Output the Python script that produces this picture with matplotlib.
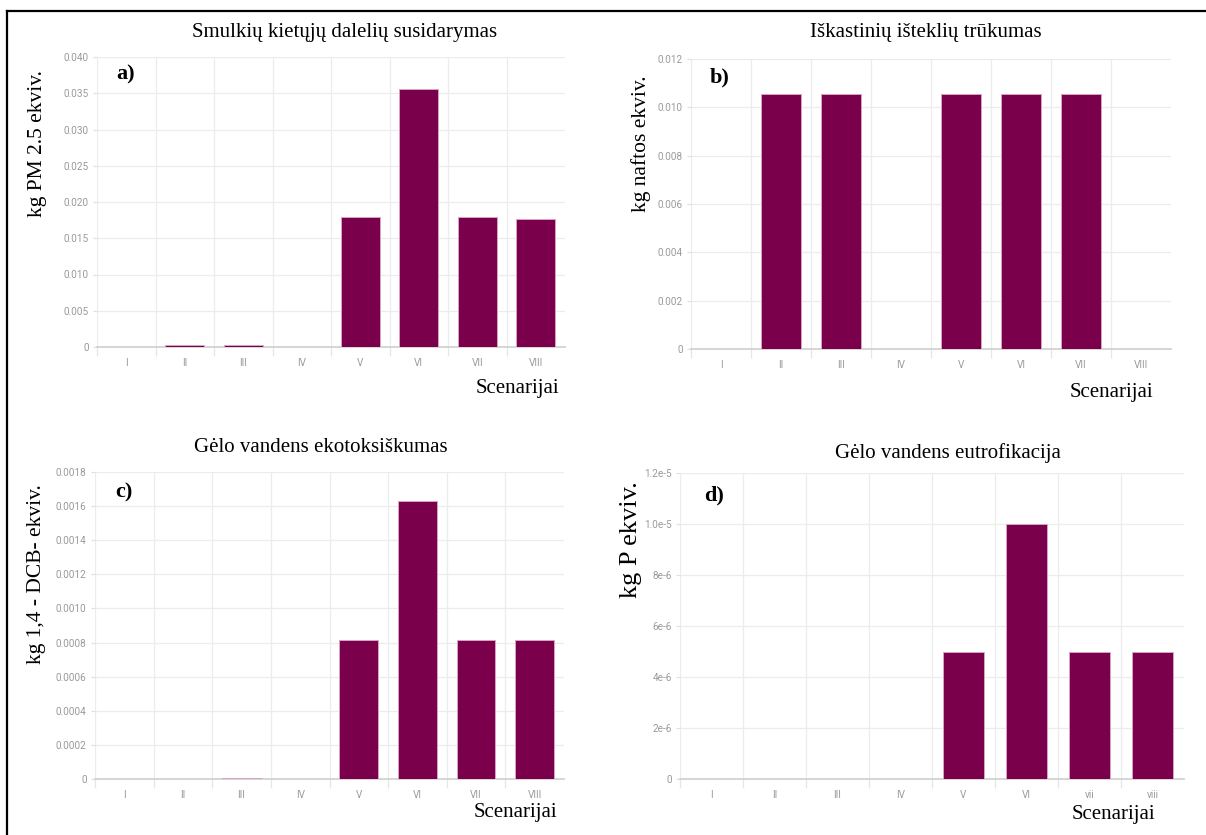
import matplotlib
matplotlib.use('Agg')
import matplotlib.pyplot as plt
from matplotlib.lines import Line2D

W, H = 1206, 835

# scenario labels
scenarios = ['I', 'II', 'III', 'IV', 'V', 'VI', 'VII', 'VIII']
scenarios_d = ['I', 'II', 'III', 'IV', 'V', 'VI', 'vii', 'viii']

# impact values per scenario
pm25 = [0, 0.0003, 0.0003, 0, 0.0179, 0.0356, 0.0179, 0.0177]
fossil = [0, 0.01054, 0.01054, 0, 0.01054, 0.01054, 0.01054, 0]
ecotox = [0, 0, 0.000004, 0, 0.000816, 0.00163, 0.000816, 0.000816]
eutro = [0, 0, 0, 0, 5.0e-6, 1.0e-5, 5.0e-6, 5.0e-6]

# y ticks
ticks_a = [0, 0.005, 0.010, 0.015, 0.020, 0.025, 0.030, 0.035, 0.040]
labels_a = ['0', '0.005', '0.010', '0.015', '0.020', '0.025', '0.030', '0.035', '0.040']
ticks_b = [0, 0.002, 0.004, 0.006, 0.008, 0.010, 0.012]
labels_b = ['0', '0.002', '0.004', '0.006', '0.008', '0.010', '0.012']
ticks_c = [0, 0.0002, 0.0004, 0.0006, 0.0008, 0.0010, 0.0012, 0.0014, 0.0016, 0.0018]
labels_c = ['0', '0.0002', '0.0004', '0.0006', '0.0008', '0.0010', '0.0012', '0.0014', '0.0016', '0.0018']
ticks_d = [0, 2e-6, 4e-6, 6e-6, 8e-6, 1.0e-5, 1.2e-5]
labels_d = ['0', '2e-6', '4e-6', '6e-6', '8e-6', '1.0e-5', '1.2e-5']

titles = ['Smulkių kietųjų dalelių susidarymas', 'Iškastinių išteklių trūkumas',
          'Gėlo vandens ekotoksiškumas', 'Gėlo vandens eutrofikacija']
ylabels = ['kg PM 2.5 ekviv.', 'kg naftos ekviv.', 'kg 1,4 - DCB- ekviv.', 'kg P ekviv.']
letters = ['a)', 'b)', 'c)', 'd)']

BAR = '#7b004c'
SERIF = 'Liberation Serif'


def fx(x):
    return x / W


def fy(y):
    return 1 - y / H


fig = plt.figure(figsize=(W / 100, H / 100), dpi=100)

# panel layout in pixels: left, right, top, bottom
boxes = [(97, 565, 57, 347), (691, 1171, 59, 349), (95, 564, 472, 779), (680, 1184, 473, 779)]
title_pos = [(345, 32), (926, 33), (321, 447), (948, 453)]
ylab_pos = [(38, 144, 15.5), (641, 144, 15.5), (37, 574, 15.5), (631, 540, 19)]
letter_pos = [(126, 74), (720, 77), (124, 492), (714, 495)]
scen_pos = [(559, 388), (1153, 392), (557, 813), (1155, 815)]

data = [pm25, fossil, ecotox, eutro]
yt = [(ticks_a, labels_a), (ticks_b, labels_b), (ticks_c, labels_c), (ticks_d, labels_d)]
xl = [scenarios, scenarios, scenarios, scenarios_d]

for i in range(4):
    l, r, t, b = boxes[i]
    ax = fig.add_axes([fx(l), fy(b), (r - l) / W, (b - t) / H])
    x = list(range(len(xl[i])))
    ax.bar(x, data[i], width=0.66, color=BAR, edgecolor='#d9a3c4', linewidth=0.7, zorder=3)
    ax.set_xlim(-0.5, 7.5)
    ticks, labels = yt[i]
    ax.set_ylim(0, ticks[-1])
    ax.set_yticks(ticks)
    ax.set_yticklabels(labels)
    for yv in ticks[1:]:
        ax.axhline(yv, color='#ececec', lw=0.9, zorder=1)
    for k in range(8):
        ax.axvline(k - 0.5, color='#ececec', lw=0.9, zorder=1)
    ax.axhline(0, color='#d2d2d2', lw=1.3, zorder=2, clip_on=False)
    ax.set_xticks(x)
    ax.set_xticklabels(xl[i])
    ax.set_xticks([k - 0.5 for k in range(8)], minor=True)
    ax.tick_params(axis='x', which='major', length=0, pad=8, labelsize=7.2, labelcolor='#9a9a9a')
    ax.tick_params(axis='x', which='minor', length=6.5, width=0.9, color='#e6e6e6')
    ax.tick_params(axis='y', length=3, width=0.9, color='#e0e0e0', pad=3,
                   labelsize=7.2, labelcolor='#9a9a9a')
    for lab in ax.get_xticklabels() + ax.get_yticklabels():
        lab.set_fontfamily('Roboto')
    for s in ax.spines.values():
        s.set_visible(False)

    fig.text(fx(title_pos[i][0]), fy(title_pos[i][1]), titles[i], family=SERIF,
             fontsize=15, ha='center', va='center')
    yx, yy, ys = ylab_pos[i]
    fig.text(fx(yx), fy(yy), ylabels[i], family=SERIF, fontsize=ys,
             rotation=90, ha='center', va='center')
    fig.text(fx(letter_pos[i][0]), fy(letter_pos[i][1]), letters[i], family=SERIF,
             fontsize=16, fontweight='bold', ha='center', va='center')
    fig.text(fx(scen_pos[i][0]), fy(scen_pos[i][1]), 'Scenarijai', family=SERIF,
             fontsize=15, ha='right', va='center')

# frame of the figure box
fig.add_artist(Line2D([fx(6.5), 1], [fy(10.5), fy(10.5)], transform=fig.transFigure,
                      color='black', lw=1.6))
fig.add_artist(Line2D([fx(6.5), fx(6.5)], [0, fy(10.5)], transform=fig.transFigure,
                      color='black', lw=1.6))

fig.savefig('out.png', dpi=100)
